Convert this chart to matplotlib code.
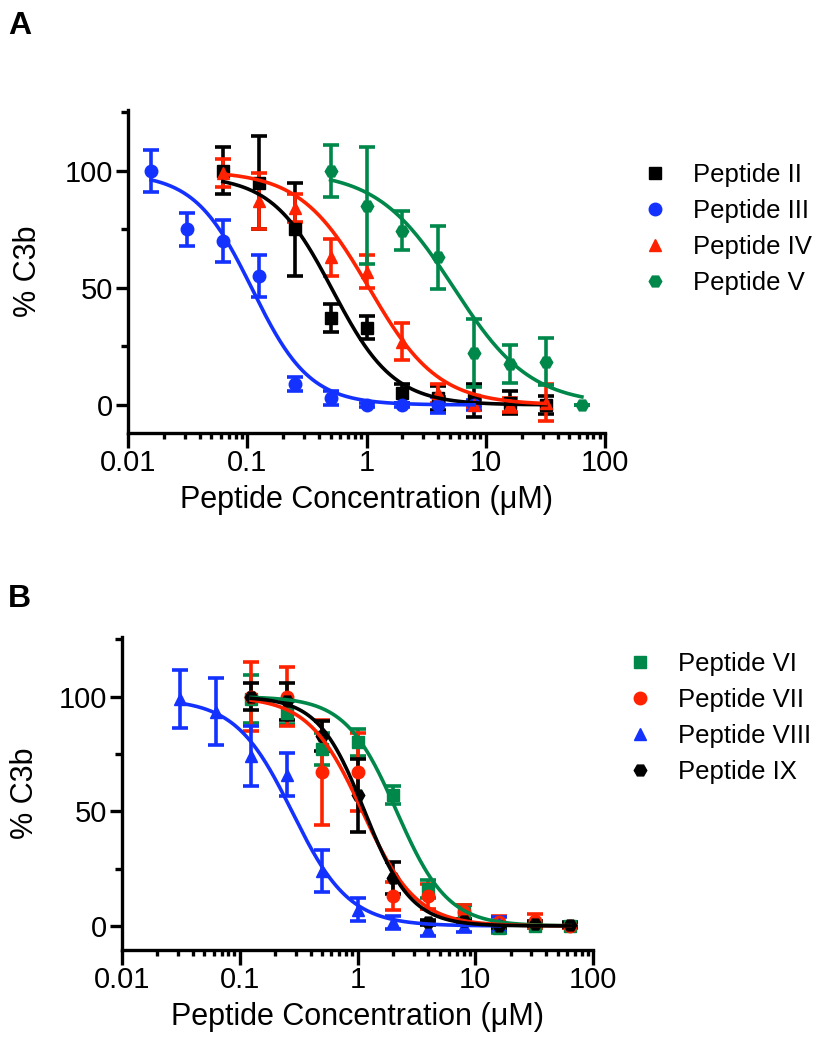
import matplotlib
matplotlib.use("Agg")
import matplotlib.pyplot as plt
import numpy as np
from matplotlib.lines import Line2D
from matplotlib.ticker import FixedLocator, LogLocator, NullFormatter

plt.rcParams['font.family'] = ['Liberation Sans', 'DejaVu Sans']

# ---------------- Panel A data ----------------
conc_ii = [0.0625, 0.125, 0.25, 0.5, 1, 2, 4, 8, 16, 32]
c3b_ii = [100, 95, 75, 37, 33, 5, 3, 2, 1, 0]
err_ii = [10, 20, 20, 6, 5, 4, 5, 7, 5, 4]

conc_iii = [0.015625, 0.03125, 0.0625, 0.125, 0.25, 0.5, 1, 2, 4, 8]
c3b_iii = [100, 75, 70, 55, 9, 3, 0, 0, 0, 0]
err_iii = [9, 7, 9, 9, 3, 3, 1, 1, 3.5, 2]

conc_iv = [0.0625, 0.125, 0.25, 0.5, 1, 2, 4, 8, 16, 32]
c3b_iv = [99, 87, 84, 63, 57, 27, 5, 0, 0, 1]
err_iv = [6, 12, 6, 8, 7, 8, 4, 1, 3, 8]

conc_v = [0.5, 1, 2, 4, 8, 16, 32, 64]
c3b_v = [100, 85, 74.5, 63, 22, 17.5, 18.5, 0]
err_v = [11, 25, 8.5, 13.5, 14.5, 8, 10, 0]

# fitted curve parameters (top, IC50, hill)
fit_ii = (98, 0.52, 1.7)
fit_iii = (99, 0.11, 1.8)
fit_iv = (100, 1.05, 1.5)
fit_v = (100, 5.4, 1.35)

# ---------------- Panel B data ----------------
conc_b = [0.125, 0.25, 0.5, 1, 2, 4, 8, 16, 32, 64]

c3b_vi = [99, 93, 77, 80, 57, 16, 6, -1, 0, 0]
err_vi = [10.5, 5, 7, 6, 4, 4, 3, 2, 1, 1]

c3b_vii = [100, 100, 67, 67, 13, 13, 6, 1.5, 2, 0]
err_vii = [15, 13, 23, 17, 6, 5.5, 3, 3, 3, 1]

conc_viii = [0.03125, 0.0625, 0.125, 0.25, 0.5, 1, 2, 4, 8, 16]
c3b_viii = [99, 93.5, 74, 66, 24, 7, 1.5, -1.5, 0, 1]
err_viii = [12.5, 14.5, 13, 9.5, 9, 5, 3, 3, 2.5, 3]

c3b_ix = [100, 98, 83, 57, 21, 1.5, 2, 0, 1, 0.5]
err_ix = [6, 8, 6.5, 16, 7, 1, 1, 1, 1, 1]

fit_vi = (100, 2.15, 2.0)
fit_vii = (100, 1.1, 1.9)
fit_viii = (99, 0.28, 1.8)
fit_ix = (100, 1.15, 2.2)

BLACK = "#000000"
BLUE = "#1432ff"
RED = "#ff2200"
GREEN = "#00874a"

LW = 2.6


def logistic(x, top, ic50, hill):
    return top / (1 + (x / ic50) ** hill)


def draw_series(ax, conc, vals, errs, fit, color, marker):
    ax.errorbar(conc, vals, yerr=errs, fmt=marker, color=color, ms=9,
                elinewidth=LW, capsize=6, capthick=LW, zorder=3)
    xs = np.logspace(np.log10(conc[0]), np.log10(conc[-1]), 300)
    ax.plot(xs, logistic(xs, *fit), color=color, lw=LW, zorder=4)


def style_axes(ax, ylo, ylabpad):
    ax.set_xscale('log')
    ax.set_xlim(0.01, 100)
    ax.set_ylim(ylo, 126)
    for s in ['top', 'right']:
        ax.spines[s].set_visible(False)
    for s in ['left', 'bottom']:
        ax.spines[s].set_linewidth(2.4)
    ax.set_xticks([0.01, 0.1, 1, 10, 100])
    ax.set_xticklabels(['0.01', '0.1', '1', '10', '100'])
    ax.xaxis.set_minor_locator(LogLocator(base=10, subs=np.arange(2, 10)))
    ax.xaxis.set_minor_formatter(NullFormatter())
    ax.set_yticks([0, 50, 100])
    ax.yaxis.set_minor_locator(FixedLocator([25, 75, 125]))
    ax.tick_params(axis='x', which='major', length=10.5, width=2.4, labelsize=21, pad=1)
    ax.tick_params(axis='x', which='minor', length=4.5, width=2.4)
    ax.tick_params(axis='y', which='major', length=8.5, width=2.4, labelsize=21, pad=2)
    ax.tick_params(axis='y', which='minor', length=5, width=2.4)
    ax.set_xlabel('Peptide Concentration (\u03bcM)', fontsize=22, labelpad=6)
    ax.set_ylabel('% C3b', fontsize=22, labelpad=ylabpad)


fig = plt.figure(figsize=(8.24, 10.5), dpi=100)

axA = fig.add_axes([128 / 824, 1 - 433 / 1050, (605 - 128) / 824, (433 - 110) / 1050])
draw_series(axA, conc_ii, c3b_ii, err_ii, fit_ii, BLACK, 's')
draw_series(axA, conc_iii, c3b_iii, err_iii, fit_iii, BLUE, 'o')
draw_series(axA, conc_iv, c3b_iv, err_iv, fit_iv, RED, '^')
draw_series(axA, conc_v, c3b_v, err_v, fit_v, GREEN, 'H')
style_axes(axA, -12, 16)

axB = fig.add_axes([122 / 824, 1 - 950 / 1050, (593 - 122) / 824, (950 - 637) / 1050])
draw_series(axB, conc_b, c3b_vi, err_vi, fit_vi, GREEN, 's')
draw_series(axB, conc_b, c3b_vii, err_vii, fit_vii, RED, 'o')
draw_series(axB, conc_viii, c3b_viii, err_viii, fit_viii, BLUE, '^')
draw_series(axB, conc_b, c3b_ix, err_ix, fit_ix, BLACK, 'H')
style_axes(axB, -10.5, 14)


def add_legend(labels, colors, markers, left_px, top_px):
    handles = [Line2D([], [], ls='none', marker=m, color=c, ms=9)
               for c, m in zip(colors, markers)]
    fig.legend(handles, labels, loc='upper left',
               bbox_to_anchor=(left_px / 824, 1 - top_px / 1050),
               bbox_transform=fig.transFigure, frameon=False,
               fontsize=18.5, handlelength=1.0, handletextpad=1.0,
               labelspacing=0.47, borderpad=0, borderaxespad=0)


add_legend(['Peptide II', 'Peptide III', 'Peptide IV', 'Peptide V'],
           [BLACK, BLUE, RED, GREEN], ['s', 'o', '^', 'H'], 642, 163)
add_legend(['Peptide VI', 'Peptide VII', 'Peptide VIII', 'Peptide IX'],
           [GREEN, RED, BLUE, BLACK], ['s', 'o', '^', 'H'], 627, 652)

fig.text(8 / 824, 1 - 11 / 1050, 'A', fontsize=23, fontweight='bold', va='top', ha='left')
fig.text(8 / 824, 1 - 584 / 1050, 'B', fontsize=23, fontweight='bold', va='top', ha='left')

fig.savefig('out.png', dpi=100)
